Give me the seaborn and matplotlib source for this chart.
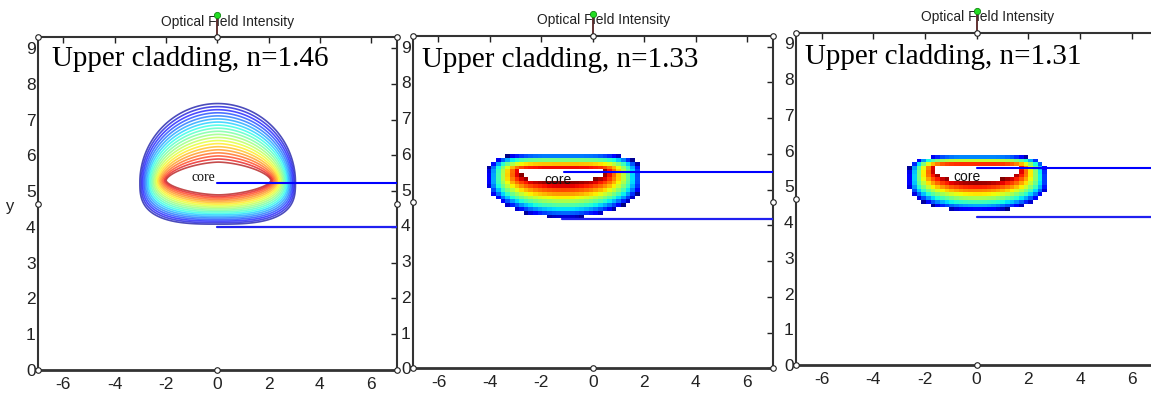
import numpy as np
import matplotlib
matplotlib.use("Agg")
import matplotlib.pyplot as plt
import seaborn as sns

# Upper-cladding index of each simulation
cladding_index = ["1.46", "1.33", "1.31"]

# Mode extents per panel: (left, right, top, bottom, y of widest line)
hole_boxes = [(-1.95, 2.05, 5.74, 4.93, 5.30),
              (-2.80, 0.45, 5.56, 5.20, 5.48),
              (-1.60, 1.60, 5.56, 5.12, 5.47)]
outer_boxes = [(-3.05, 3.08, 7.50, 4.05, 5.25),
               (-4.10, 1.90, 6.00, 4.22, 5.20),
               (-2.65, 2.75, 5.88, 4.30, 5.10)]
# superellipse exponents (upper half, lower half) at the core and at the rim
hole_exponent = [(1.6, 1.6), (4.0, 2.0), (4.0, 2.0)]
outer_exponent = [(2.0, 3.0), (4.0, 2.0), (4.0, 2.2)]
intensity_gamma = [1.0, 0.75, 0.75]

# Rib edges drawn as blue lines: start x and height
upper_edge_x = [0.0, -1.1, 0.0]
upper_edge_y = [5.22, 5.50, 5.50]
lower_edge_x = [0.0, -1.2, 0.0]
lower_edge_y = [4.00, 4.17, 4.15]
core_label_xy = [(-0.55, 5.37), (-1.34, 5.27), (-0.39, 5.25)]

x_ticks = [-6, -4, -2, 0, 2, 4, 6]
y_ticks = [0, 1, 2, 3, 4, 5, 6, 7, 8, 9]
x_range = (-7, 7)
y_range = (0, 9.3)

# Axes rectangles in figure fraction
panel_rects = [[0.0328, 0.0657, 0.3119, 0.8402],
               [0.3586, 0.0699, 0.3128, 0.8391],
               [0.6913, 0.0783, 0.3145, 0.8391]]

sns.set_style("white")
plt.rcParams["font.family"] = ["Liberation Sans Narrow", "Liberation Sans", "DejaVu Sans"]
plt.rcParams["axes.unicode_minus"] = False
jet = matplotlib.colormaps["jet"]


def ring_field(X, Y, hole, outer, q_hole, q_outer, gamma=1.0, n_iter=28):
    """Intensity that falls from 1 at the core edge to 0 at the outer edge."""
    h = np.asarray(hole, float)
    o = np.asarray(outer, float)
    qh = np.asarray(q_hole, float)
    qo = np.asarray(q_outer, float)

    def inside(t):
        L, R, T, B, C = [h[k] + (o[k] - h[k]) * t for k in range(5)]
        q_up = qh[0] + (qo[0] - qh[0]) * np.clip(t, 0, 1)
        q_dn = qh[1] + (qo[1] - qh[1]) * np.clip(t, 0, 1)
        xc = 0.5 * (L + R)
        axw = 0.5 * (R - L)
        up = Y >= C
        ay = np.where(up, T - C, C - B)
        q = np.where(up, q_up, q_dn)
        return np.abs((X - xc) / axw) ** q + np.abs((Y - C) / ay) ** q <= 1.0

    lo = np.zeros_like(X)
    hi = np.full_like(X, 1.6)
    for _ in range(n_iter):
        mid = 0.5 * (lo + hi)
        ins = inside(mid)
        hi = np.where(ins, mid, hi)
        lo = np.where(ins, lo, mid)
    in_core = inside(np.zeros_like(X))
    val = 1.0 - hi
    val = np.where(val > 0, np.abs(val) ** gamma, val)
    return np.ma.masked_where(in_core, val)


fig = plt.figure(figsize=(11.51, 3.96), dpi=100)

for i in range(3):
    ax = fig.add_axes(panel_rects[i])
    ax.set_xlim(*x_range)
    ax.set_ylim(*y_range)

    if i == 0:
        xs = np.linspace(-5, 5, 500)
        ys = np.linspace(2.5, 9.0, 400)
        X, Y = np.meshgrid(xs, ys)
        F = ring_field(X, Y, hole_boxes[i], outer_boxes[i],
                       hole_exponent[i], outer_exponent[i], intensity_gamma[i])
        levels = np.linspace(0.03, 0.96, 20)
        ax.contour(X, Y, F, levels=levels, cmap=jet, vmin=0, vmax=1,
                   linewidths=1.2, alpha=0.7)
    else:
        xe = np.arange(-7.0, 7.0001, 0.18)
        ye = np.arange(0.0, 9.3001, 0.105)
        xc = 0.5 * (xe[:-1] + xe[1:])
        yc = 0.5 * (ye[:-1] + ye[1:])
        X, Y = np.meshgrid(xc, yc)
        F = ring_field(X, Y, hole_boxes[i], outer_boxes[i],
                       hole_exponent[i], outer_exponent[i], intensity_gamma[i])
        F = np.ma.masked_where(np.ma.filled(F, 1.0) < 0.0, F)
        ax.pcolormesh(xe, ye, F, cmap=jet, vmin=0, vmax=1, shading="flat")

    # rib edges
    ax.plot([upper_edge_x[i], x_range[1]], [upper_edge_y[i]] * 2,
            color="#0000ff", lw=1.5, zorder=4)
    ax.plot([lower_edge_x[i], x_range[1]], [lower_edge_y[i]] * 2,
            color="#2020f0", lw=1.6, zorder=4)

    cx, cy = core_label_xy[i]
    ax.text(cx, cy, "core", ha="center", va="center", fontsize=10,
            family=["Liberation Serif"] if i == 0 else ["Liberation Sans", "DejaVu Sans"],
            color="#111111", zorder=5)

    ax.text(-6.45 if i == 0 else -6.65, 8.5 if i == 0 else 8.43,
            f"Upper cladding, n={cladding_index[i]}",
            family=["Liberation Serif", "DejaVu Serif"], fontsize=21,
            va="baseline", ha="left", color="black", zorder=5)

    ax.set_xticks(x_ticks)
    ax.set_xticklabels([str(v) for v in x_ticks])
    ax.set_yticks(y_ticks)
    ax.set_yticklabels([str(v) for v in y_ticks])
    ax.tick_params(axis="both", direction="in", top=True, right=True,
                   length=4, width=1, colors="#222222", labelsize=12.5)
    ax.tick_params(axis="x", pad=5)
    ax.tick_params(axis="y", pad=1.5)
    for side, sp in ax.spines.items():
        sp.set_linewidth(2.0 if side == "bottom" else 1.5)
        sp.set_color("#333333")
        sp.set_visible(True)

    # title with the selection marker above it
    ax.text(0.53, 1.047, "Optical Field Intensity", transform=ax.transAxes,
            ha="center", va="center", fontsize=10, color="#222222")
    ax.plot([0.5, 0.5], [1.0, 1.066], transform=ax.transAxes, color="#552222",
            lw=1.3, clip_on=False, zorder=6)
    ax.plot([0.5], [1.066], transform=ax.transAxes, marker="o", ms=4.5,
            mfc="#22dd22", mec="#118811", mew=0.6, clip_on=False, zorder=7)

    # selection handles on the axes box
    hx = [0, 0.5, 1, 0, 1, 0, 0.5, 1]
    hy = [1, 1, 1, 0.5, 0.5, 0, 0, 0]
    ax.plot(hx, hy, linestyle="none", marker="o", ms=4, mfc="white",
            mec="#222222", mew=0.8, transform=ax.transAxes, clip_on=False,
            zorder=6)

    if i == 0:
        ax.text(-0.077, 0.49, "y", transform=ax.transAxes, ha="center",
                va="center", fontsize=12, color="#222222")

fig.savefig("out.png", dpi=100)
